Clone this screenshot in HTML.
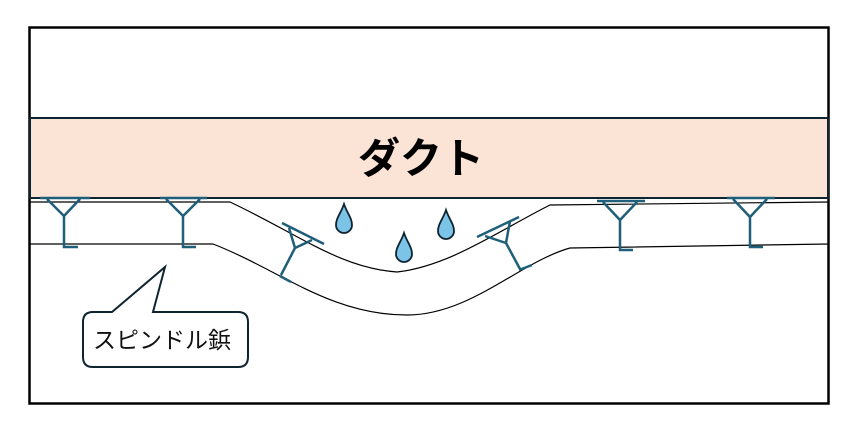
<!DOCTYPE html>
<html><head><meta charset="utf-8"><style>
html,body{margin:0;padding:0;background:#fff;}
svg{display:block;}
</style></head><body>
<svg width="853" height="437" viewBox="0 0 853 437" xmlns="http://www.w3.org/2000/svg">
<rect x="0" y="0" width="853" height="437" fill="#fff"/>
<rect x="29.5" y="27.5" width="799" height="376" fill="#fff" stroke="#000" stroke-width="2.5"/>
<rect x="30" y="118" width="798" height="80" fill="#fbe3d6" stroke="#0e2430" stroke-width="2"/>
<text x="421" y="173" text-anchor="middle" font-family="'Liberation Sans','Noto Sans CJK JP',sans-serif" font-weight="bold" font-size="42" fill="#000">ダクト</text>
<g fill="none" stroke="#000" stroke-width="1.2">
<path d="M30,202 L230,202 C300,235 340,268 397,272 C450,266 500,230 550,205 L829,202"/>
<path d="M30,244 L213,244 C280,270 330,315 407,315 C470,315 520,262 570,248 L829,244"/>
</g>
<g fill="none" stroke="#1f5f7a" stroke-width="2.5">
<path d="M40,198 H90 M47,199 L64,216 L80,199 M64,216 V247 H78"/>
<path d="M160,198 H207 M166,199 L183,216 L200,199 M183,216 V247 H196"/>
<path d="M597,201 H645 M603,202 L620,220 L637,202 M620,220 V250 H633"/>
<path d="M727,198 H775 M733,199 L750,217 L767,199 M750,217 V247 H763"/>
<path d="M282,223 L324,244 M289,228 L295,248 L312,240 M295,248 L281,275 M280,276 L291,282"/>
<path d="M477,237 L519,217 M485,236 L506,243 L510,221 M506,243 L520,269 M519,270 L532,265"/>
</g>
<g fill="#7cc3e8" stroke="#0e2430" stroke-width="1.8">
<path d="M344,204 C347,213 352,218 352,225 A8,8 0 0 1 336,225 C336,218 341,213 344,204 Z"/>
<path d="M404,233 C407,242 412,247 412,254 A8,8 0 0 1 396,254 C396,247 401,242 404,233 Z"/>
<path d="M446,210 C449,219 454,224 454,231 A8,8 0 0 1 438,231 C438,224 443,219 446,210 Z"/>
</g>
<path d="M93,312 Q83,312 83,322 V357 Q83,367 93,367 H238 Q248,367 248,357 V322 Q248,312 238,312 H153 L165,267 L112,312 Z" fill="#fff" stroke="#0e2430" stroke-width="2"/>
<text x="93" y="348" font-family="'Liberation Sans','Noto Sans CJK JP',sans-serif" font-size="23" fill="#111">スピンドル鋲</text>
</svg>
</body></html>
